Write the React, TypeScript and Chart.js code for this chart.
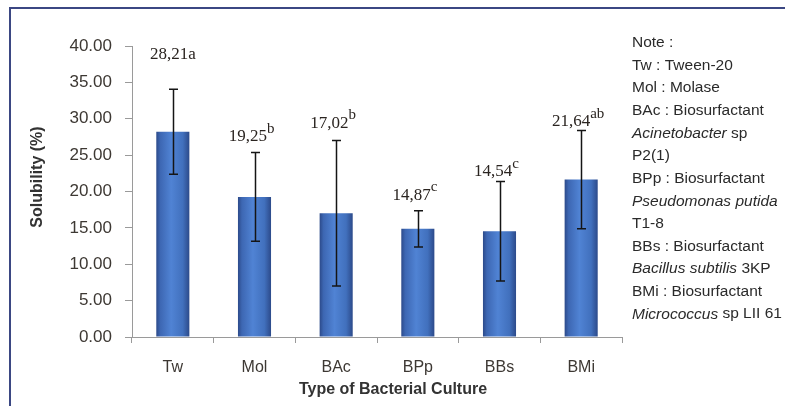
import React, { useEffect, useRef } from 'react';
import { Chart, registerables } from 'chart.js';

Chart.register(...registerables);

const categories = ['Tw', 'Mol', 'BAc', 'BPp', 'BBs', 'BMi'];
const solubility = [28.21, 19.25, 17.02, 14.87, 14.54, 21.64];
const errorValues = [5.85, 6.1, 10.0, 2.5, 6.85, 6.75];
const valueLabels = ['28,21', '19,25', '17,02', '14,87', '14,54', '21,64'];
const letterLabels = ['a', 'b', 'b', 'c', 'c', 'ab'];
const letterSuperscript = [false, true, true, true, true, true];
const labelAnchor = [38.8, 27.5, 29.4, 19.5, 22.7, 29.6];
const yMin = 0;
const yMax = 40;
const yStep = 5;
const yTitle = 'Solubility (%)';
const xTitle = 'Type of Bacterial Culture';
const noteLines: { t: string; i?: boolean }[][] = [
  [{ t: 'Note :' }],
  [{ t: 'Tw : Tween-20' }],
  [{ t: 'Mol : Molase' }],
  [{ t: 'BAc : Biosurfactant' }],
  [{ t: 'Acinetobacter', i: true }, { t: ' sp' }],
  [{ t: 'P2(1)' }],
  [{ t: 'BPp : Biosurfactant' }],
  [{ t: 'Pseudomonas putida', i: true }],
  [{ t: 'T1-8' }],
  [{ t: 'BBs : Biosurfactant' }],
  [{ t: 'Bacillus subtilis', i: true }, { t: ' 3KP' }],
  [{ t: 'BMi : Biosurfactant' }],
  [{ t: 'Micrococcus', i: true }, { t: ' sp LII 61' }],
];

const SANS = '"Liberation Sans", Arial, sans-serif';
const SERIF = '"Liberation Serif", "Times New Roman", serif';
const TEXT = '#3d3833';

const overlay = {
  id: 'overlay',
  afterDatasetsDraw(chart: any) {
    const { ctx } = chart;
    const x = chart.scales.x;
    const y = chart.scales.y;
    ctx.save();
    ctx.strokeStyle = '#151515';
    ctx.lineWidth = 1.5;
    solubility.forEach((v, i) => {
      const px = Math.round(x.getPixelForValue(i)) + 0.5;
      const top = y.getPixelForValue(v + errorValues[i]);
      const bot = y.getPixelForValue(v - errorValues[i]);
      ctx.beginPath();
      ctx.moveTo(px, top);
      ctx.lineTo(px, bot);
      ctx.moveTo(px - 4.5, top);
      ctx.lineTo(px + 4.5, top);
      ctx.moveTo(px - 4.5, bot);
      ctx.lineTo(px + 4.5, bot);
      ctx.stroke();
    });
    ctx.fillStyle = '#2a2420';
    ctx.textBaseline = 'middle';
    ctx.textAlign = 'left';
    solubility.forEach((_v, i) => {
      const px = x.getPixelForValue(i);
      const py = y.getPixelForValue(labelAnchor[i]);
      const mainFont = '17px ' + SERIF;
      const supFont = letterSuperscript[i] ? '15px ' + SERIF : mainFont;
      ctx.font = mainFont;
      const w1 = ctx.measureText(valueLabels[i]).width;
      ctx.font = supFont;
      const w2 = ctx.measureText(letterLabels[i]).width;
      const start = px - (w1 + w2) / 2 - (letterSuperscript[i] ? 3 : 0);
      ctx.font = mainFont;
      ctx.fillText(valueLabels[i], start, py);
      ctx.font = supFont;
      ctx.fillText(letterLabels[i], start + w1, letterSuperscript[i] ? py - 8 : py);
    });
    ctx.restore();
  },
  afterDraw(chart: any) {
    const { ctx } = chart;
    ctx.save();
    // outer frame
    ctx.strokeStyle = '#3b4783';
    ctx.lineWidth = 2;
    ctx.strokeRect(10, 8, 900, 500);
    // axis titles
    ctx.fillStyle = '#333';
    ctx.font = 'bold 16px ' + SANS;
    ctx.textAlign = 'center';
    ctx.textBaseline = 'middle';
    ctx.fillText(xTitle, 393, 390);
    ctx.translate(38, 177);
    ctx.rotate(-Math.PI / 2);
    ctx.fillText(yTitle, 0, 0);
    ctx.setTransform(1, 0, 0, 1, 0, 0);
    // note
    ctx.textAlign = 'left';
    ctx.fillStyle = '#2a2a2a';
    noteLines.forEach((line, li) => {
      let cx = 632;
      const cy = 43 + li * 22.6;
      line.forEach((seg) => {
        ctx.font = (seg.i ? 'italic ' : '') + '15.5px ' + SANS;
        ctx.fillText(seg.t, cx, cy);
        cx += ctx.measureText(seg.t).width;
      });
    });
    ctx.restore();
  },
};

export default function App() {
  const ref = useRef<HTMLCanvasElement>(null);
  useEffect(() => {
    if (!ref.current) return;
    const barFraction = 0.405;
    const chart = new Chart(ref.current, {
      type: 'bar',
      data: {
        labels: categories,
        datasets: [
          {
            data: solubility,
            backgroundColor: (c: any) => {
              const ch = c.chart;
              const xs = ch.scales?.x;
              if (!xs || !ch.chartArea) return '#4472c4';
              const center = xs.getPixelForValue(c.dataIndex);
              const hw = (xs.width / categories.length) * barFraction / 2;
              const g = ch.ctx.createLinearGradient(center - hw, 0, center + hw, 0);
              g.addColorStop(0, '#2c4a8a');
              g.addColorStop(0.12, '#3d67b3');
              g.addColorStop(0.45, '#5083d4');
              g.addColorStop(0.8, '#4170bd');
              g.addColorStop(1, '#2c4a8a');
              return g;
            },
            borderWidth: 0,
            categoryPercentage: 1,
            barPercentage: barFraction,
          },
        ],
      },
      options: {
        responsive: false,
        animation: false,
        devicePixelRatio: 1,
        layout: { padding: { left: 0, top: 46, right: 163, bottom: 0 } },
        plugins: { legend: { display: false }, tooltip: { enabled: false }, title: { display: false } },
        scales: {
          x: {
            afterFit: (s: any) => { s.height = 69; },
            grid: { drawOnChartArea: false, drawTicks: true, tickLength: 6, color: '#9a9a9a', offset: true },
            border: { color: '#9a9a9a', width: 1 },
            ticks: { color: TEXT, font: { family: SANS, size: 16 }, padding: 15 },
          },
          y: {
            min: yMin,
            max: yMax,
            afterFit: (s: any) => { s.width = 132; },
            grid: { drawOnChartArea: false, drawTicks: true, tickLength: 7, color: '#9a9a9a' },
            border: { color: '#9a9a9a', width: 1 },
            ticks: {
              stepSize: yStep,
              color: TEXT,
              font: { family: SANS, size: 17 },
              padding: 13,
              callback: (v: any) => Number(v).toFixed(2),
            },
          },
        },
      },
      plugins: [overlay],
    });
    return () => chart.destroy();
  }, []);
  return (
    <div style={{ position: 'fixed', left: 0, top: 0, width: 785, height: 406, background: '#fff' }}>
      <canvas ref={ref} width={785} height={406} style={{ width: 785, height: 406, display: 'block' }} />
    </div>
  );
}
